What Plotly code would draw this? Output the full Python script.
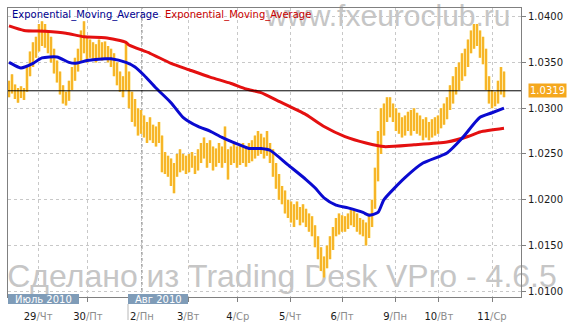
import plotly.graph_objects as go

# ---------------- data ----------------
# hourly bars (bar index 0..165): low / high prices
bar_low = [1.0312, 1.0316, 1.0310, 1.0306, 1.0311, 1.0309, 1.0318, 1.0335, 1.0345, 1.0355,
           1.0362, 1.0368, 1.0366, 1.0360, 1.0350, 1.0338, 1.0328, 1.0315, 1.0305, 1.0303,
           1.0308, 1.0320, 1.0330, 1.0340, 1.0350, 1.0360, 1.0350, 1.0355, 1.0352, 1.0350,
           1.0355, 1.0352, 1.0355, 1.0350, 1.0345, 1.0335, 1.0325, 1.0318, 1.0312, 1.0320,
           1.0300, 1.0285, 1.0280, 1.0270, 1.0272, 1.0268, 1.0262, 1.0265, 1.0262, 1.0258,
           1.0262, 1.0230, 1.0228, 1.0225, 1.0215, 1.0207, 1.0225, 1.0230, 1.0232, 1.0228,
           1.0230, 1.0235, 1.0228, 1.0232, 1.0240, 1.0245, 1.0235, 1.0240, 1.0232, 1.0236,
           1.0240, 1.0235, 1.0240, 1.0222, 1.0238, 1.0240, 1.0235, 1.0238, 1.0240, 1.0236,
           1.0240, 1.0242, 1.0245, 1.0248, 1.0250, 1.0245, 1.0248, 1.0240, 1.0225, 1.0212,
           1.0200, 1.0195, 1.0185, 1.0180, 1.0175, 1.0170, 1.0178, 1.0172, 1.0175, 1.0170,
           1.0165, 1.0160, 1.0148, 1.0135, 1.0122, 1.0115, 1.0125, 1.0135, 1.0145, 1.0160,
           1.0162, 1.0165, 1.0165, 1.0168, 1.0172, 1.0170, 1.0165, 1.0162, 1.0160, 1.0150,
           1.0158, 1.0170, 1.0190, 1.0220, 1.0250, 1.0270, 1.0285, 1.0290, 1.0285, 1.0275,
           1.0272, 1.0268, 1.0270, 1.0275, 1.0270, 1.0275, 1.0272, 1.0270, 1.0265, 1.0268,
           1.0265, 1.0268, 1.0270, 1.0272, 1.0278, 1.0282, 1.0288, 1.0298, 1.0305, 1.0315,
           1.0320, 1.0330, 1.0335, 1.0345, 1.0360, 1.0365, 1.0368, 1.0355, 1.0348, 1.0320,
           1.0305, 1.0300, 1.0302, 1.0305, 1.0315, 1.0312]
bar_high = [1.0330, 1.0337, 1.0326, 1.0322, 1.0324, 1.0322, 1.0345, 1.0362, 1.0372, 1.0378,
            1.0392, 1.0395, 1.0392, 1.0385, 1.0378, 1.0365, 1.0352, 1.0340, 1.0325, 1.0318,
            1.0330, 1.0345, 1.0355, 1.0365, 1.0385, 1.0395, 1.0378, 1.0375, 1.0372, 1.0370,
            1.0375, 1.0372, 1.0373, 1.0368, 1.0365, 1.0360, 1.0350, 1.0340, 1.0335, 1.0372,
            1.0340, 1.0318, 1.0310, 1.0300, 1.0298, 1.0292, 1.0285, 1.0290, 1.0282, 1.0280,
            1.0285, 1.0270, 1.0252, 1.0248, 1.0245, 1.0240, 1.0250, 1.0255, 1.0250, 1.0248,
            1.0250, 1.0252, 1.0248, 1.0255, 1.0262, 1.0268, 1.0262, 1.0265, 1.0258, 1.0256,
            1.0262, 1.0258, 1.0280, 1.0255, 1.0258, 1.0262, 1.0258, 1.0260, 1.0262, 1.0258,
            1.0262, 1.0265, 1.0270, 1.0275, 1.0272, 1.0268, 1.0275, 1.0262, 1.0255, 1.0240,
            1.0228, 1.0215, 1.0210, 1.0200, 1.0198, 1.0195, 1.0198, 1.0192, 1.0195, 1.0190,
            1.0185, 1.0182, 1.0172, 1.0160, 1.0148, 1.0138, 1.0150, 1.0160, 1.0170, 1.0180,
            1.0185, 1.0183, 1.0182, 1.0185, 1.0190, 1.0188, 1.0185, 1.0180, 1.0178, 1.0175,
            1.0185, 1.0200, 1.0235, 1.0275, 1.0300, 1.0305, 1.0312, 1.0312, 1.0305, 1.0300,
            1.0295, 1.0290, 1.0292, 1.0296, 1.0298, 1.0300, 1.0295, 1.0292, 1.0288, 1.0290,
            1.0285, 1.0288, 1.0290, 1.0292, 1.0300, 1.0305, 1.0312, 1.0325, 1.0335, 1.0345,
            1.0350, 1.0360, 1.0365, 1.0375, 1.0385, 1.0392, 1.0392, 1.0385, 1.0378, 1.0365,
            1.0335, 1.0320, 1.0318, 1.0330, 1.0345, 1.0340]
last_close = 1.0319

# fast EMA (blue) sampled at bar positions
ema_fast_x = [0, 3, 4, 8, 11, 16, 20, 22, 26, 32, 34, 39, 42, 45, 49, 54, 58, 63, 67, 71,
              76, 80, 84, 87, 93, 99, 102, 105, 109, 113, 118, 120, 123, 125, 132, 138, 146,
              151, 157, 161, 165]
ema_fast = [1.0350, 1.0345, 1.0344, 1.0349, 1.0355, 1.0356, 1.0350, 1.0349, 1.0352, 1.0354,
            1.0354, 1.0350, 1.0345, 1.0336, 1.0322, 1.0306, 1.0290, 1.0280, 1.0275, 1.0268,
            1.0261, 1.0256, 1.0256, 1.0254, 1.0238, 1.0222, 1.0213, 1.0202, 1.0194, 1.0191,
            1.0186, 1.0183, 1.0186, 1.0200, 1.0224, 1.0240, 1.0251, 1.0267, 1.0290, 1.0295,
            1.0300]
# slow EMA (red)
ema_slow_x = [0, 5, 12, 19, 25, 32, 39, 40, 47, 54, 60, 67, 74, 79, 84, 89, 99, 105, 112,
              119, 125, 135, 146, 153, 157, 165]
ema_slow = [1.0390, 1.0385, 1.0384, 1.0382, 1.0378, 1.0377, 1.0372, 1.0369, 1.0360, 1.0349,
            1.0342, 1.0334, 1.0327, 1.0321, 1.0317, 1.0309, 1.0293, 1.0280, 1.0269, 1.0262,
            1.0258, 1.0260, 1.0263, 1.0269, 1.0274, 1.0278]

tick_pos = [9.7, 26.3, 44.3, 59.7, 76.3, 93.7, 111.0, 128.7, 143.3, 161.0]
tick_day = ["29", "30", "2", "3", "4", "5", "6", "9", "10", "11"]
tick_wd = ["Чт", "Пт", "Пн", "Вт", "Ср", "Чт", "Пт", "Пн", "Вт", "Ср"]
month_labels = ["Июль 2010", "Авг 2010"]
y_ticks = [1.0100, 1.0150, 1.0200, 1.0250, 1.0300, 1.0350, 1.0400]
series_names = ["Exponential_Moving_Average", "Exponential_Moving_Average"]

# ---------------- layout geometry ----------------
W, H = 574, 327
ML, MR, MT, MB = 8, 53, 8, 30
PW, PH = W - ML - MR, H - MT - MB
X_RANGE = [-0.333, 170.667]
Y_RANGE = [1.00936, 1.04095]


def xp(px):  # pixel -> paper x
    return (px - ML) / PW


def yp(py):  # pixel -> paper y
    return (H - MB - py) / PH


def xd(px):  # pixel -> data x
    return X_RANGE[0] + (px - ML) / PW * (X_RANGE[1] - X_RANGE[0])


def yd(py):
    return Y_RANGE[1] - (py - MT) / PH * (Y_RANGE[1] - Y_RANGE[0])


fig = go.Figure()

# watermarks (under data)
fig.add_trace(go.Scatter(x=[xd(388)], y=[yd(18)], mode="text", text=["www.fxeuroclub.ru"],
                         textfont=dict(family="Liberation Sans, Arial", size=30, color="#c6c6c6"),
                         cliponaxis=False, hoverinfo="skip", showlegend=False))
fig.add_trace(go.Scatter(x=[xd(282)], y=[yd(279)], mode="text",
                         text=["Сделано из Trading Desk VPro - 4.6.5"],
                         textfont=dict(family="Liberation Sans, Arial", size=32, color="#c6c6c6"),
                         cliponaxis=False, hoverinfo="skip", showlegend=False))

# price bars
bx, by = [], []
for i, (lo, hi) in enumerate(zip(bar_low, bar_high)):
    bx += [i, i, None]
    by += [lo, hi, None]
fig.add_trace(go.Scatter(x=bx, y=by, mode="lines", line=dict(color="#fde7a0", width=3.4),
                         hoverinfo="skip", showlegend=False))
fig.add_trace(go.Scatter(x=bx, y=by, mode="lines", line=dict(color="#f5a500", width=1.5),
                         hoverinfo="skip", showlegend=False))

fig.add_trace(go.Scatter(x=ema_slow_x, y=ema_slow, mode="lines", name=series_names[1],
                         line=dict(color="#e41010", width=3, shape="spline", smoothing=0.6),
                         showlegend=False))
fig.add_trace(go.Scatter(x=ema_fast_x, y=ema_fast, mode="lines", name=series_names[0],
                         line=dict(color="#0a0ad0", width=3, shape="spline", smoothing=0.6),
                         showlegend=False))

ticktext = [f"{d}<span style='color:#8c8c8c'>/{w}</span>" for d, w in zip(tick_day, tick_wd)]

shapes = [
    dict(type="line", xref="paper", x0=0, x1=1, yref="y", y0=last_close, y1=last_close,
         line=dict(color="#000000", width=1), layer="above"),
    dict(type="line", xref="x", x0=tick_pos[2], x1=tick_pos[2], yref="paper", y0=0, y1=1,
         line=dict(color="#707070", width=1, dash="3px,3px"), layer="below"),
    dict(type="rect", xref="paper", yref="paper", x0=xp(8), x1=xp(79), y0=yp(304), y1=yp(294),
         fillcolor="#7f9cb8", line=dict(width=0), layer="above"),
    dict(type="rect", xref="paper", yref="paper", x0=xp(128), x1=xp(188), y0=yp(304), y1=yp(294),
         fillcolor="#7f9cb8", line=dict(width=0), layer="above"),
    dict(type="line", xref="paper", yref="paper", x0=xp(128), x1=xp(128), y0=yp(304), y1=yp(320),
         line=dict(color="#b8b8b8", width=1), layer="above"),
]

annotations = [
    dict(text=series_names[0], xref="paper", yref="paper", x=xp(10), y=yp(15),
         xanchor="left", yanchor="middle", showarrow=False,
         font=dict(family="DejaVu Sans", size=10, color="#000090")),
    dict(text=series_names[1], xref="paper", yref="paper", x=xp(163), y=yp(15),
         xanchor="left", yanchor="middle", showarrow=False,
         font=dict(family="DejaVu Sans", size=10, color="#c80000")),
    dict(text=month_labels[0], xref="paper", yref="paper", x=xp(43.5), y=yp(299),
         xanchor="center", yanchor="middle", showarrow=False,
         font=dict(family="DejaVu Sans", size=10, color="#ffffff")),
    dict(text=month_labels[1], xref="paper", yref="paper", x=xp(158), y=yp(299),
         xanchor="center", yanchor="middle", showarrow=False,
         font=dict(family="DejaVu Sans", size=10, color="#ffffff")),
    dict(text=f"{last_close:.4f}", xref="paper", yref="y", x=1, y=last_close, xshift=7,
         xanchor="left", yanchor="middle", showarrow=False, bgcolor="#f5a81e", borderpad=1,
         font=dict(family="DejaVu Sans", size=10, color="#ffffff")),
]

fig.update_layout(
    width=W, height=H, margin=dict(l=ML, r=MR, t=MT, b=MB, autoexpand=False),
    paper_bgcolor="#ffffff", plot_bgcolor="#ffffff",
    showlegend=False, shapes=shapes, annotations=annotations,
    xaxis=dict(range=X_RANGE, tickmode="array", tickvals=tick_pos, ticktext=ticktext,
               showgrid=True, gridcolor="#c8c8c8", griddash="3px,3px", gridwidth=1,
               ticks="outside", ticklen=4, tickcolor="#808080",
               showline=True, linecolor="#808080", mirror=True, zeroline=False,
               ticklabelstandoff=6,
               tickfont=dict(family="DejaVu Sans", size=10, color="#1a1a1a")),
    yaxis=dict(range=Y_RANGE, side="right", tickmode="array", tickvals=y_ticks,
               tickformat=".4f", showgrid=True, gridcolor="#c8c8c8", griddash="3px,3px",
               ticks="outside", ticklen=4, tickcolor="#808080",
               showline=True, linecolor="#808080", mirror=True, zeroline=False,
               tickfont=dict(family="DejaVu Sans", size=10, color="#1a1a1a")),
)

fig.write_html("out.html")
